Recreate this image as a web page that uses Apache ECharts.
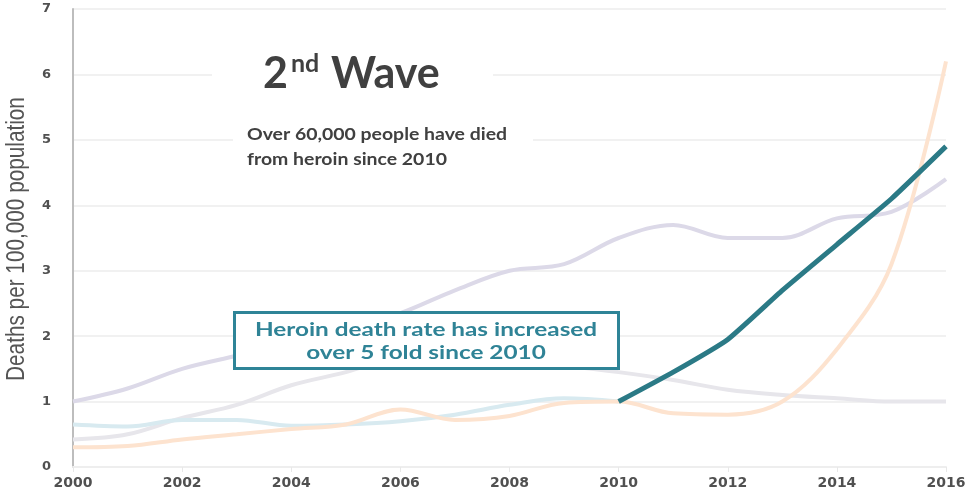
<!DOCTYPE html>
<html>
<head>
<meta charset="utf-8">
<script src="https://cdn.jsdelivr.net/npm/echarts@6/dist/echarts.min.js"></script>
<style>
  html, body { margin: 0; padding: 0; background: #ffffff; }
  #chart { width: 972px; height: 495px; }
</style>
</head>
<body>
<div id="chart"></div>
<script>
// Opioid overdose death rates, deaths per 100,000 population
const years = [2000, 2001, 2002, 2003, 2004, 2005, 2006, 2007, 2008,
               2009, 2010, 2011, 2012, 2013, 2014, 2015, 2016];

const naturalSemiSynthetic = [1.0, 1.2, 1.5, 1.7, 1.9, 2.1, 2.35, 2.7, 3.0,
                              3.1, 3.5, 3.7, 3.5, 3.5, 3.8, 3.9, 4.4];
const methadone = [0.42, 0.5, 0.75, 0.95, 1.25, 1.45, 1.7, 1.8, 1.65,
                   1.55, 1.45, 1.33, 1.18, 1.1, 1.05, 1.0, 1.0];
const syntheticOpioids = [0.3, 0.32, 0.42, 0.5, 0.58, 0.65, 0.88, 0.72, 0.78,
                          0.98, 1.0, 0.82, 0.8, 1.0, 1.8, 3.1, 6.2];
const heroinEarly = [0.65, 0.62, 0.72, 0.72, 0.63, 0.65, 0.7, 0.8, 0.95,
                     1.05, 1.0, null, null, null, null, null, null];
const heroinSince2010 = [null, null, null, null, null, null, null, null, null,
                         null, 1.0, 1.45, 1.95, 2.7, 3.4, 4.1, 4.9];

const yTicks = [0, 1, 2, 3, 4, 5, 6, 7];
const yTitle = 'Deaths per 100,000 population';

const pairs = (vals) => years.map((y, i) => [y, vals[i]]);

const chart = echarts.init(document.getElementById('chart'), null, { renderer: 'canvas' });

const fadedLine = (name, vals, color, z) => ({
  name, type: 'line', data: pairs(vals), smooth: 0.35, showSymbol: false,
  connectNulls: false, z,
  lineStyle: { color, width: 4 }
});

chart.setOption({
  backgroundColor: '#ffffff',
  animation: false,
  grid: { left: 73, right: 26, top: 9, bottom: 28, containLabel: false },
  xAxis: {
    type: 'value', min: 2000, max: 2016, interval: 2,
    axisLine: { show: true, lineStyle: { color: '#eeeeee', width: 2 } },
    axisTick: { show: true, length: 5, lineStyle: { color: '#e8e8e8' } },
    splitLine: { show: false },
    axisLabel: {
      formatter: (v) => String(v), margin: 9,
      color: '#505050', fontFamily: 'DejaVu Sans', fontWeight: 'bold', fontSize: 14
    }
  },
  yAxis: {
    type: 'value', min: yTicks[0], max: yTicks[yTicks.length - 1], interval: 1,
    axisLine: { show: true, lineStyle: { color: '#bdbdbd', width: 2 } },
    axisTick: { show: false },
    splitLine: { show: true, lineStyle: { color: '#f1f1f1', width: 2 } },
    axisLabel: {
      margin: 22, color: '#505050',
      fontFamily: 'DejaVu Sans', fontWeight: 'bold', fontSize: 13
    }
  },
  series: [
    fadedLine('Natural and semi-synthetic opioids', naturalSemiSynthetic, '#dcd9e8', 2),
    fadedLine('Methadone', methadone, '#e7e6eb', 2),
    fadedLine('Heroin (before 2010)', heroinEarly, '#d8eaf0', 3),
    fadedLine('Synthetic opioids', syntheticOpioids, '#fde3cf', 3),
    {
      name: 'Heroin', type: 'line', data: pairs(heroinSince2010),
      smooth: 0.15, showSymbol: false, z: 5,
      lineStyle: { color: '#2b7a86', width: 5 }
    }
  ],
  graphic: [
    // condensed vertical axis title
    { type: 'text', z: 60, x: 17, y: 239, rotation: Math.PI / 2, scaleX: 0.83,
      style: { text: yTitle, fill: '#555555', font: '25px "Liberation Sans"',
               align: 'center', verticalAlign: 'middle' } },
    // white backing behind the headline texts
    { type: 'rect', z: 50, shape: { x: 212, y: 48, width: 281, height: 52 },
      style: { fill: '#ffffff' } },
    { type: 'rect', z: 50, shape: { x: 233, y: 118, width: 300, height: 58 },
      style: { fill: '#ffffff' } },
    { type: 'text', z: 60, x: 263, y: 74,
      style: { text: '2', fill: '#404040', font: 'bold 43px Lato', verticalAlign: 'middle' } },
    { type: 'text', z: 60, x: 291, y: 64,
      style: { text: 'nd', fill: '#404040', font: 'bold 25px Lato', verticalAlign: 'middle' } },
    { type: 'text', z: 60, x: 331, y: 74,
      style: { text: 'Wave', fill: '#404040', font: 'bold 43px Lato', verticalAlign: 'middle' } },
    { type: 'text', z: 60, x: 247, y: 134, scaleX: 1.11,
      style: { text: 'Over 60,000 people have died', fill: '#404040',
               font: 'bold 17.5px Lato', verticalAlign: 'middle' } },
    { type: 'text', z: 60, x: 247, y: 159, scaleX: 1.11,
      style: { text: 'from heroin since 2010', fill: '#404040',
               font: 'bold 17.5px Lato', verticalAlign: 'middle' } },
    // boxed heroin callout
    { type: 'rect', z: 50, shape: { x: 234.5, y: 312.5, width: 384, height: 56 },
      style: { fill: '#ffffff', stroke: '#2e8497', lineWidth: 3 } },
    { type: 'text', z: 60, x: 426, y: 330, scaleX: 1.28,
      style: { text: 'Heroin death rate has increased', fill: '#2f8396',
               font: 'bold 19px Lato', align: 'center', verticalAlign: 'middle' } },
    { type: 'text', z: 60, x: 426, y: 353, scaleX: 1.28,
      style: { text: 'over 5 fold since 2010', fill: '#2f8396',
               font: 'bold 19px Lato', align: 'center', verticalAlign: 'middle' } }
  ]
});
</script>
</body>
</html>
